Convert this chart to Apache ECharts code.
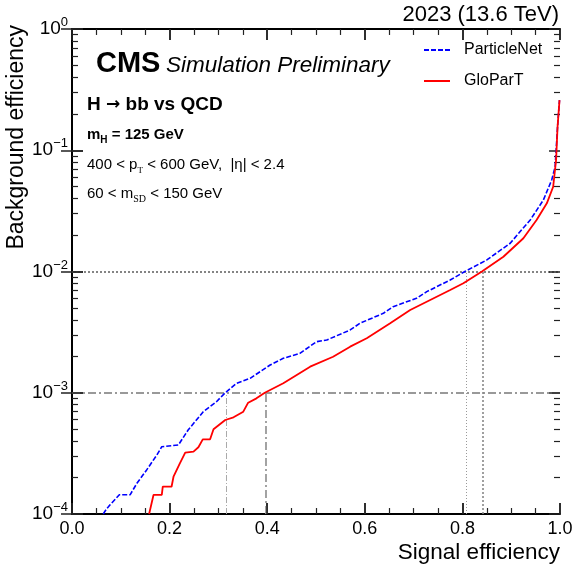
<!DOCTYPE html>
<html lang="en">
  <head>
    <meta charset="UTF-8" />
    <title>ROC</title>
    <script src="https://cdn.jsdelivr.net/npm/echarts@6/dist/echarts.min.js"></script>
    <style>
      html, body { margin: 0; padding: 0; background: #fff; }
      #main { width: 580px; height: 570px; }
    </style>
  </head>
  <body>
    <div id="main"></div>
    <script>
      // ParticleNet (blue dashed)
      var pnetX = [0.064, 0.070, 0.078, 0.097, 0.119, 0.133, 0.153, 0.174, 0.184, 0.218, 0.238, 0.269, 0.296, 0.314, 0.337, 0.365, 0.406, 0.433, 0.467, 0.501, 0.522, 0.570, 0.590, 0.638, 0.658, 0.706, 0.727, 0.775, 0.805, 0.850, 0.898, 0.921, 0.939, 0.966, 0.983, 0.990, 0.995, 0.999];
      var pnetY = [1.0e-4, 1.09e-4, 1.19e-4, 1.44e-4, 1.44e-4, 1.79e-4, 2.31e-4, 3.07e-4, 3.59e-4, 3.71e-4, 4.93e-4, 6.98e-4, 8.43e-4, 1.0e-3, 1.197e-3, 1.315e-3, 1.694e-3, 1.923e-3, 2.113e-3, 2.636e-3, 2.723e-3, 3.296e-3, 3.74e-3, 4.52e-3, 5.13e-3, 6.01e-3, 6.82e-3, 8.51e-3, 1.0e-2, 1.245e-2, 1.71e-2, 2.2e-2, 2.66e-2, 3.89e-2, 5.69e-2, 7.31e-2, 0.156, 0.259];

      // GloParT (red solid)
      var gloX = [0.158, 0.167, 0.184, 0.186, 0.204, 0.208, 0.221, 0.232, 0.249, 0.259, 0.268, 0.283, 0.290, 0.314, 0.331, 0.351, 0.361, 0.378, 0.395, 0.433, 0.488, 0.535, 0.570, 0.604, 0.652, 0.693, 0.734, 0.775, 0.802, 0.840, 0.884, 0.925, 0.952, 0.973, 0.986, 0.992, 0.995, 0.999];
      var gloY = [1.0e-4, 1.436e-4, 1.436e-4, 1.679e-4, 1.679e-4, 2.03e-4, 2.62e-4, 3.21e-4, 3.27e-4, 3.55e-4, 4.13e-4, 4.13e-4, 5.0e-4, 5.96e-4, 6.27e-4, 6.98e-4, 8.28e-4, 8.99e-4, 1.0e-3, 1.197e-3, 1.641e-3, 1.982e-3, 2.399e-3, 2.812e-3, 3.74e-3, 4.81e-3, 5.82e-3, 7.03e-3, 8.0e-3, 1.0e-2, 1.324e-2, 1.879e-2, 2.66e-2, 3.65e-2, 5.0e-2, 8.32e-2, 0.156, 0.259];

      // working points: background levels and matching signal efficiencies
      var wpLevels = [1e-3, 1e-2];
      var pnetWP = [0.317, 0.807];
      var gloWP = [0.397, 0.841];

      var xTicks = ["0.0", "0.2", "0.4", "0.6", "0.8", "1.0"];
      var xMajor = [0, 0.2, 0.4, 0.6, 0.8, 1.0];
      var yMajor = [1e-4, 1e-3, 1e-2, 1e-1, 1];
      var yMinorMant = [2, 3, 4, 5, 6, 7, 8, 9];

      var FONT = "Liberation Sans";

      function pairs(xs, ys) {
        return xs.map(function (x, i) { return [x, ys[i]]; });
      }

      function supLabel(v) {
        var e = Math.round(Math.log10(v));
        return "{b|10}{s|" + (e < 0 ? "\u2212" + (-e) : e) + "}";
      }

      // frame ticks drawn as short marker segments in data space
      function seg(a, b, w) {
        return [{ coord: a, lineStyle: { color: "#222", width: w, type: "solid" } }, { coord: b }];
      }
      var frameTicks = [];
      function xTick(x, f, w) {
        frameTicks.push(seg([x, 1e-4], [x, 1e-4 * f], w));
        frameTicks.push(seg([x, 1], [x, 1 / f], w));
      }
      function yTick(y, d, w) {
        frameTicks.push(seg([0, y], [d, y], w));
        frameTicks.push(seg([1, y], [1 - d, y], w));
      }
      xMajor.forEach(function (x, i) {
        xTick(x, 1.23, 1.5);
        if (i < xMajor.length - 1) {
          [0.05, 0.1, 0.15].forEach(function (d) { xTick(x + d, 1.12, 1.2); });
        }
      });
      yMajor.forEach(function (y, i) {
        yTick(y, 0.0225, 1.5);
        if (i < yMajor.length - 1) {
          yMinorMant.forEach(function (m) { yTick(m * y, 0.0123, 1.2); });
        }
      });

      var chartDom = document.getElementById("main");
      var myChart = echarts.init(chartDom);

      var tickCommon = { show: true, inside: true, length: 11, lineStyle: { color: "#222", width: 1.5 } };

      var option = {
        animation: false,
        textStyle: { fontFamily: FONT },
        grid: { left: 72, right: 20, top: 29, bottom: 56 },
        legend: {
          orient: "vertical",
          left: 423,
          top: 42,
          padding: 0,
          itemWidth: 26,
          itemHeight: 14,
          itemGap: 15,
          itemStyle: { opacity: 0 },
          textStyle: { fontSize: 16, color: "#000", fontFamily: FONT, padding: [0, 0, 0, 9] },
          data: ["ParticleNet", "GloParT"]
        },
        xAxis: [
          {
            type: "value",
            min: 0,
            max: 1,
            interval: 0.2,
            axisLine: { lineStyle: { color: "#000", width: 2 } },
            axisTick: tickCommon,
            splitLine: { show: false },
            axisLabel: {
              fontSize: 18,
              color: "#000",
              margin: 6,
              formatter: function (v) { return xTicks[Math.round(v / 0.2)]; }
            },
            name: "Signal efficiency",
            nameLocation: "end",
            nameGap: 0,
            nameTextStyle: { fontSize: 22.5, color: "#000", align: "right", verticalAlign: "top", padding: [27, 0, 0, 0] }
          },
          {
            type: "value",
            position: "top",
            min: 0,
            max: 1,
            interval: 0.2,
            axisLine: { lineStyle: { color: "#000", width: 2 } },
            axisTick: tickCommon,
            splitLine: { show: false },
            axisLabel: { show: false }
          }
        ],
        yAxis: [
          {
            type: "log",
            min: 1e-4,
            max: 1,
            logBase: 10,
            axisLine: { lineStyle: { color: "#000", width: 2 } },
            axisTick: tickCommon,
            splitLine: { show: false },
            axisLabel: {
              margin: 4,
              color: "#000",
              formatter: supLabel,
              rich: {
                b: { fontSize: 19, lineHeight: 26, fontFamily: FONT, color: "#000" },
                s: { fontSize: 13, lineHeight: 14, verticalAlign: "top", fontFamily: FONT, color: "#000" }
              }
            }
          },
          {
            type: "log",
            position: "right",
            min: 1e-4,
            max: 1,
            logBase: 10,
            axisLine: { lineStyle: { color: "#000", width: 2 } },
            axisTick: tickCommon,
            splitLine: { show: false },
            axisLabel: { show: false }
          }
        ],
        graphic: [
          { type: "text", x: 17, y: 25, rotation: Math.PI / 2, style: { text: "Background efficiency", fontSize: 23, fontFamily: FONT, fill: "#000", textAlign: "right", textVerticalAlign: "middle" } },
          { type: "text", x: 559, y: 15, style: { text: "2023 (13.6 TeV)", fontSize: 22, fontFamily: FONT, fill: "#000", textAlign: "right", textVerticalAlign: "middle" } },
          { type: "text", x: 96, y: 64, style: { text: "CMS", fontSize: 29, fontWeight: "bold", fontFamily: FONT, fill: "#000", textVerticalAlign: "middle" } },
          { type: "text", x: 166, y: 66, style: { text: "Simulation Preliminary", fontSize: 22.5, fontStyle: "italic", fontFamily: FONT, fill: "#000", textVerticalAlign: "middle" } },
          {
            type: "text", x: 87, y: 105,
            style: {
              text: "{a|H }{r|\u2192}{a| bb vs QCD}",
              textVerticalAlign: "middle",
              rich: {
                a: { fontSize: 19, fontWeight: "bold", fontFamily: FONT, fill: "#000", lineHeight: 22 },
                r: { fontSize: 17, fontWeight: "bold", fontFamily: "DejaVu Sans", fill: "#000", lineHeight: 22 }
              }
            }
          },
          {
            type: "text", x: 87, y: 135,
            style: {
              text: "{a|m}{b|H}{a| = 125 GeV}",
              textVerticalAlign: "middle",
              rich: {
                a: { fontSize: 15, fontWeight: "bold", fontFamily: FONT, fill: "#000", lineHeight: 20 },
                b: { fontSize: 10, fontWeight: "bold", fontFamily: FONT, fill: "#000", lineHeight: 12, verticalAlign: "bottom" }
              }
            }
          },
          {
            type: "text", x: 87, y: 165,
            style: {
              text: "{a|400 < p}{b|T}{a| < 600 GeV,  |\u03b7| < 2.4}",
              textVerticalAlign: "middle",
              rich: {
                a: { fontSize: 15, fontFamily: FONT, fill: "#000", lineHeight: 20 },
                b: { fontSize: 9, fontFamily: "Liberation Serif", fill: "#000", lineHeight: 12, verticalAlign: "bottom" }
              }
            }
          },
          {
            type: "text", x: 87, y: 194,
            style: {
              text: "{a|60 < m}{b|SD}{a| < 150 GeV}",
              textVerticalAlign: "middle",
              rich: {
                a: { fontSize: 15, fontFamily: FONT, fill: "#000", lineHeight: 20 },
                b: { fontSize: 10, fontFamily: "Liberation Serif", fill: "#000", lineHeight: 12, verticalAlign: "bottom" }
              }
            }
          }
        ],
        series: [
          {
            name: "ParticleNet",
            type: "line",
            symbol: "none",
            color: "#0000ff",
            lineStyle: { color: "#0000ff", width: 1.6, type: [5, 2] },
            data: pairs(pnetX, pnetY),
            z: 5,
            markLine: {
              silent: true,
              symbol: "none",
              precision: 6,
              label: { show: false },
              data: [
                [{ coord: [pnetWP[0], 1e-4], lineStyle: { color: "#aaa", width: 1, type: [6, 2, 1, 2] } }, { coord: [pnetWP[0], wpLevels[0]] }],
                [{ coord: [pnetWP[1], 1e-4], lineStyle: { color: "#999", width: 1, type: [1, 2] } }, { coord: [pnetWP[1], wpLevels[1]] }]
              ]
            }
          },
          {
            name: "GloParT",
            type: "line",
            symbol: "none",
            color: "#ff0000",
            lineStyle: { color: "#ff0000", width: 1.8 },
            data: pairs(gloX, gloY),
            z: 6,
            markLine: {
              silent: true,
              symbol: "none",
              precision: 6,
              label: { show: false },
              data: [
                [{ coord: [0, wpLevels[0]], lineStyle: { color: "#999", width: 2.2, type: [8, 3, 2, 3] } }, { coord: [1, wpLevels[0]] }],
                [{ coord: [0, wpLevels[1]], lineStyle: { color: "#777", width: 1.8, type: [2, 2] } }, { coord: [1, wpLevels[1]] }],
                [{ coord: [gloWP[0], 1e-4], lineStyle: { color: "#999", width: 1.8, type: [8, 3, 2, 3] } }, { coord: [gloWP[0], wpLevels[0]] }],
                [{ coord: [gloWP[1], 1e-4], lineStyle: { color: "#888", width: 1.6, type: [2, 2] } }, { coord: [gloWP[1], wpLevels[1]] }]
              ].concat(frameTicks)
            }
          }
        ]
      };
      option && myChart.setOption(option);
    </script>
  </body>
</html>
